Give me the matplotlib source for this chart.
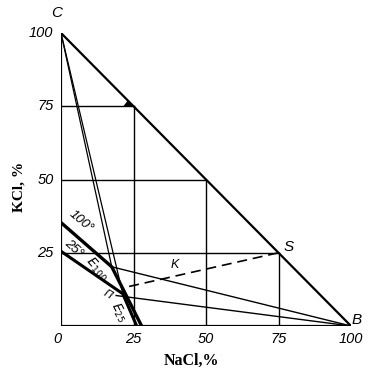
import matplotlib
matplotlib.use("Agg")
import matplotlib.pyplot as plt

# Triangle vertices (NaCl %, KCl %)
vert_nacl = [0, 100, 0, 0]
vert_kcl = [100, 0, 0, 100]

# Isotherms (solubility curves)
iso100_nacl = [0, 17.5, 27.8]
iso100_kcl = [35.3, 20.2, 0]
iso25_nacl = [0, 21.3, 26.1]
iso25_kcl = [25.5, 11.0, 0]

# Rays
ray_c_nacl = [[0, 17.5], [0, 21.3]]
ray_c_kcl = [[100, 20.2], [100, 11.0]]
ray_b_nacl = [[17.5, 100], [19.0, 100]]
ray_b_kcl = [[20.2, 0], [10.4, 0]]
dash_nacl = [23.5, 75]
dash_kcl = [13.5, 25]

# Guide lines (grid inside triangle)
grid_vals = [25, 50, 75]

xticks = [0, 25, 50, 75, 100]
yticks = [25, 50, 75, 100]

fig = plt.figure(figsize=(3.78, 3.75), dpi=100)
ax = fig.add_axes([61/378, 49/375, 290/378, 293/375])
ax.set_xlim(0, 100)
ax.set_ylim(0, 100)
ax.axis('off')

k = 'black'
# grid lines
for g in grid_vals:
    ax.plot([0, 100 - g], [g, g], color=k, lw=1.0)
    ax.plot([g, g], [0, 100 - g], color=k, lw=1.0)

# triangle
ax.plot(vert_nacl, vert_kcl, color=k, lw=1.6, solid_joinstyle='miter')

# isotherms
ax.plot(iso100_nacl, iso100_kcl, color=k, lw=2.4)
ax.plot(iso25_nacl, iso25_kcl, color=k, lw=2.2)

for xs, ys in zip(ray_c_nacl, ray_c_kcl):
    ax.plot(xs, ys, color=k, lw=0.9)
for xs, ys in zip(ray_b_nacl, ray_b_kcl):
    ax.plot(xs, ys, color=k, lw=1.0)
ax.plot(dash_nacl, dash_kcl, color=k, lw=1.2, dashes=(6, 3.5))

# small wedge
ax.fill([21.8, 25, 23.2], [75, 75, 76.8], color=k)

tick_font = dict(family='Liberation Sans', style='italic', fontsize=10.5)
for t in xticks:
    ax.text(t - (1.2 if t == 0 else 0), -4.5, str(t), ha='center', va='center', **tick_font)
for t in yticks:
    ax.text(-2.6, t, str(t), ha='right', va='center', **tick_font)

lab_font = dict(family='Liberation Sans', style='italic', fontsize=11)
ax.text(-1.4, 106.8, 'C', ha='center', va='center', **lab_font)
ax.text(78.5, 26.8, 'S', ha='center', va='center', **lab_font)
ax.text(102, 2.2, 'B', ha='center', va='center', **lab_font)
ax.text(39.3, 20.8, 'K', ha='center', va='center', family='Liberation Sans', style='italic', fontsize=9)
ax.text(7.0, 35.5, '100°', ha='center', va='center', rotation=-40, family='Liberation Sans', style='italic', fontsize=9.5)
ax.text(4.3, 26.3, '25°', ha='center', va='center', rotation=-42, family='Liberation Sans', style='italic', fontsize=9.5)
ax.text(12.5, 19.5, r'$E_{100}$', ha='center', va='center', rotation=-48, fontsize=9.5)
ax.text(16.0, 10.8, 'П', ha='center', va='center', rotation=-30, family='DejaVu Sans', style='italic', fontsize=8)
ax.text(19.8, 4.5, r'$E_{25}$', ha='center', va='center', rotation=-62, fontsize=9)

fig.text(191/378, 1 - 361/375, 'NaCl,%', ha='center', va='center', family='Liberation Serif', fontsize=11.5, fontweight='bold')
fig.text(19/378, 1 - 187/375, 'KCl, %', ha='center', va='center', rotation=90, family='Liberation Serif', fontsize=11, fontweight='bold')

fig.savefig('out.png', dpi=100)
